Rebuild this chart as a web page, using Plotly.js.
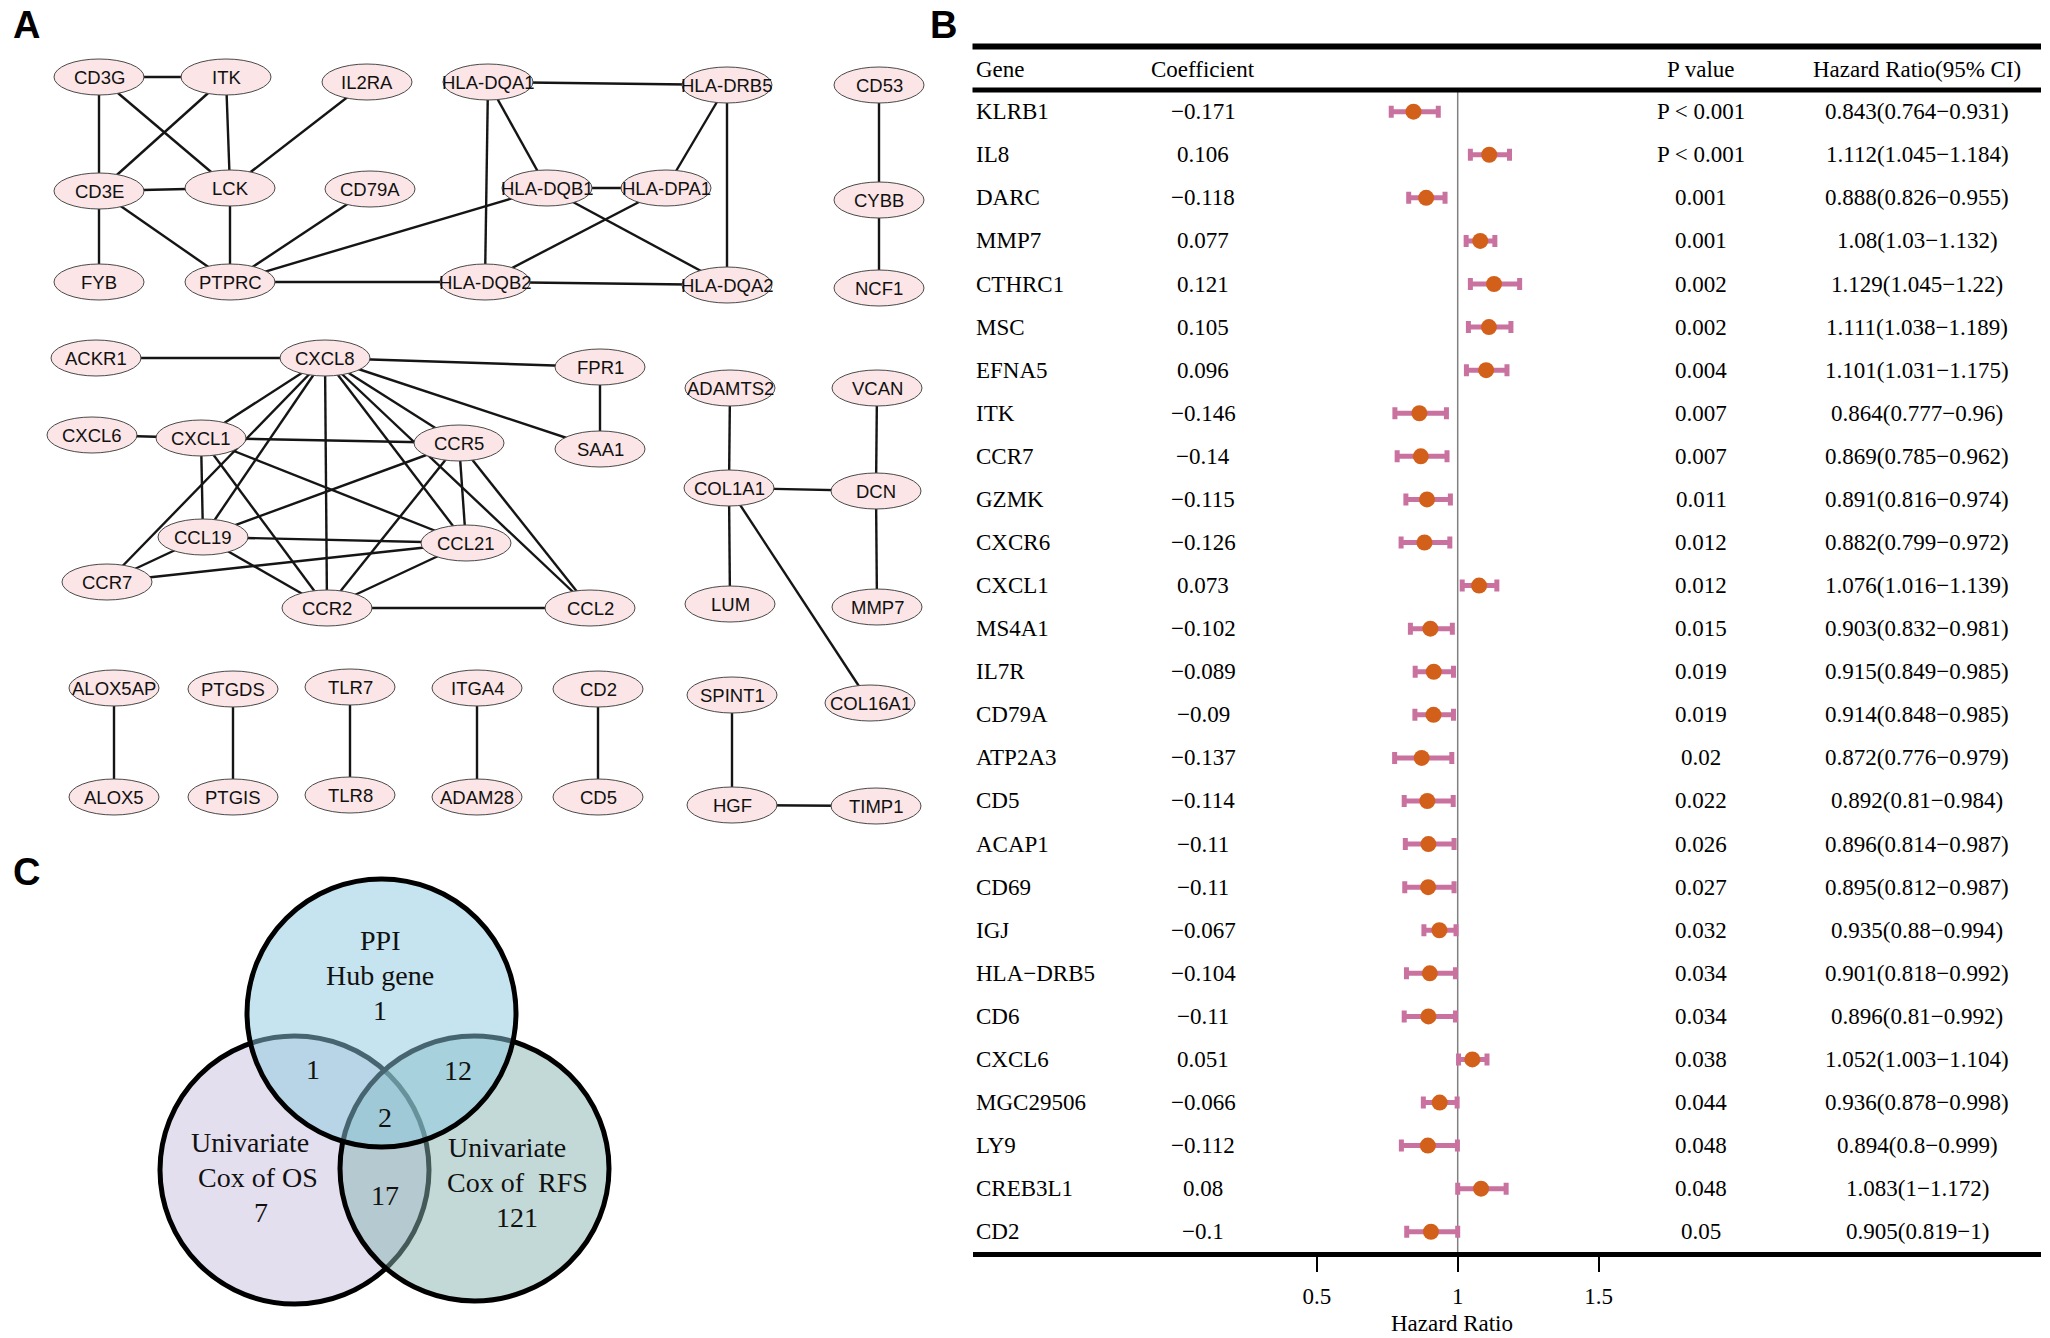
<!DOCTYPE html>
<html>
<head>
<meta charset="utf-8">
<script src="https://cdn.plot.ly/plotly-3.0.1.min.js"></script>
<style>
  html, body { margin: 0; padding: 0; background: #ffffff; }
  #chart { width: 2050px; height: 1338px; }
</style>
</head>
<body>
<div id="chart"></div>
<script>
// ---------------- DATA ----------------
// Panel B: univariate Cox regression table
const genes = ["KLRB1","IL8","DARC","MMP7","CTHRC1","MSC","EFNA5","ITK","CCR7","GZMK","CXCR6","CXCL1","MS4A1","IL7R","CD79A","ATP2A3","CD5","ACAP1","CD69","IGJ","HLA\u2212DRB5","CD6","CXCL6","MGC29506","LY9","CREB3L1","CD2"];
const coefficients = [-0.171,0.106,-0.118,0.077,0.121,0.105,0.096,-0.146,-0.14,-0.115,-0.126,0.073,-0.102,-0.089,-0.09,-0.137,-0.114,-0.11,-0.11,-0.067,-0.104,-0.11,0.051,-0.066,-0.112,0.08,-0.1];
const pValues = ["P < 0.001","P < 0.001","0.001","0.001","0.002","0.002","0.004","0.007","0.007","0.011","0.012","0.012","0.015","0.019","0.019","0.02","0.022","0.026","0.027","0.032","0.034","0.034","0.038","0.044","0.048","0.048","0.05"];
const hazardRatio = [0.843,1.112,0.888,1.08,1.129,1.111,1.101,0.864,0.869,0.891,0.882,1.076,0.903,0.915,0.914,0.872,0.892,0.896,0.895,0.935,0.901,0.896,1.052,0.936,0.894,1.083,0.905];
const ciLower = [0.764,1.045,0.826,1.03,1.045,1.038,1.031,0.777,0.785,0.816,0.799,1.016,0.832,0.849,0.848,0.776,0.81,0.814,0.812,0.88,0.818,0.81,1.003,0.878,0.8,1,0.819];
const ciUpper = [0.931,1.184,0.955,1.132,1.22,1.189,1.175,0.96,0.962,0.974,0.972,1.139,0.981,0.985,0.985,0.979,0.984,0.987,0.987,0.994,0.992,0.992,1.104,0.998,0.999,1.172,1];
const tableHeaders = ["Gene","Coefficient","P value","Hazard Ratio(95% CI)"];
const hrTickVals = [0.5, 1, 1.5];
const hrTickText = ["0.5", "1", "1.5"];

// Panel A: PPI network
const nodeNames = ["CD3G","ITK","IL2RA","HLA-DQA1","HLA-DRB5","CD53","CD3E","LCK","CD79A","HLA-DQB1","HLA-DPA1","CYBB","FYB","PTPRC","HLA-DQB2","HLA-DQA2","NCF1","ACKR1","CXCL8","FPR1","ADAMTS2","VCAN","CXCL6","CXCL1","CCR5","SAA1","COL1A1","DCN","CCL19","CCL21","CCR7","CCR2","CCL2","LUM","MMP7","ALOX5AP","PTGDS","TLR7","ITGA4","CD2","SPINT1","COL16A1","ALOX5","PTGIS","TLR8","ADAM28","CD5","HGF","TIMP1"];
const edges = [
  ["CD3G","ITK"],["CD3G","CD3E"],["CD3G","LCK"],["ITK","CD3E"],["ITK","LCK"],["IL2RA","LCK"],
  ["CD3E","LCK"],["CD3E","FYB"],["CD3E","PTPRC"],["LCK","PTPRC"],["CD79A","PTPRC"],
  ["PTPRC","HLA-DQB1"],["PTPRC","HLA-DQB2"],["HLA-DQA1","HLA-DRB5"],["HLA-DQA1","HLA-DQB1"],
  ["HLA-DQA1","HLA-DQB2"],["HLA-DRB5","HLA-DPA1"],["HLA-DRB5","HLA-DQA2"],["HLA-DQB1","HLA-DPA1"],
  ["HLA-DQB1","HLA-DQA2"],["HLA-DPA1","HLA-DQB2"],["HLA-DQB2","HLA-DQA2"],["CD53","CYBB"],["CYBB","NCF1"],
  ["ACKR1","CXCL8"],["CXCL8","FPR1"],["CXCL8","SAA1"],["FPR1","SAA1"],["CXCL6","CXCL1"],
  ["CXCL8","CXCL1"],["CXCL8","CCR7"],["CXCL8","CCL19"],["CXCL8","CCR2"],["CXCL8","CCR5"],
  ["CXCL8","CCL21"],["CXCL8","CCL2"],["CXCL1","CCR5"],["CXCL1","CCL19"],["CXCL1","CCR2"],
  ["CXCL1","CCL21"],["CCR5","CCL19"],["CCR5","CCR2"],["CCR5","CCL21"],["CCR5","CCL2"],
  ["CCL19","CCL21"],["CCL19","CCR7"],["CCL19","CCR2"],["CCR7","CCL21"],["CCL21","CCR2"],["CCR2","CCL2"],
  ["ADAMTS2","COL1A1"],["VCAN","DCN"],["COL1A1","DCN"],["COL1A1","LUM"],["COL1A1","COL16A1"],["DCN","MMP7"],
  ["ALOX5AP","ALOX5"],["PTGDS","PTGIS"],["TLR7","TLR8"],["ITGA4","ADAM28"],["CD2","CD5"],
  ["SPINT1","HGF"],["HGF","TIMP1"]
];

// Panel C: Venn diagram
const vennSetLines = [["PPI", "Hub gene"], ["Univariate", "Cox of OS"], ["Univariate", "Cox of  RFS"]];
const vennOnly = [1, 7, 121];            // PPI only, OS only, RFS only
const vennPPI_OS = 1;
const vennPPI_RFS = 12;
const vennOS_RFS = 17;
const vennAll = 2;

// ---------------- LAYOUT (positions, px) ----------------
const W = 2050, H = 1338;
const px = x => x / W;
const py = y => 1 - y / H;

const nodePos = {
  "CD3G":[99,77],"ITK":[226,77],"IL2RA":[367,82],"HLA-DQA1":[488,82],"HLA-DRB5":[727,85],"CD53":[879,85],
  "CD3E":[99,191],"LCK":[230,188],"CD79A":[370,189],"HLA-DQB1":[547,188],"HLA-DPA1":[666,188],"CYBB":[879,200],
  "FYB":[99,282],"PTPRC":[230,282],"HLA-DQB2":[485,282],"HLA-DQA2":[727,285],"NCF1":[879,288],
  "ACKR1":[96,358],"CXCL8":[325,358],"FPR1":[600,367],"ADAMTS2":[730,388],"VCAN":[877,388],
  "CXCL6":[92,435],"CXCL1":[201,438],"CCR5":[459,443],"SAA1":[600,449],"COL1A1":[729,488],"DCN":[876,491],
  "CCL19":[203,537],"CCL21":[466,543],"CCR7":[107,582],"CCR2":[327,608],"CCL2":[590,608],"LUM":[730,604],"MMP7":[877,607],
  "ALOX5AP":[114,688],"PTGDS":[233,689],"TLR7":[350,687],"ITGA4":[477,688],"CD2":[598,689],"SPINT1":[732,695],"COL16A1":[870,703],
  "ALOX5":[114,797],"PTGIS":[233,797],"TLR8":[350,795],"ADAM28":[477,797],"CD5":[598,797],"HGF":[732,805],"TIMP1":[876,806]
};
const nodeRx = 45, nodeRy = 18;

const serif = "Liberation Serif, Times New Roman, serif";
const sans = "Liberation Sans, Arial, sans-serif";

// forest geometry
const tblLeft = 972.5, tblRight = 2041;
const hrOneX = 1457.7, hrPxPerUnit = 281.6;
const rowTop = 90, rowBottom = 1252;
const row0Y = 111.7, rowStep = 43.08;
const xRange = [1 - (hrOneX - tblLeft) / hrPxPerUnit, 1 + (tblRight - hrOneX) / hrPxPerUnit];
const yRange = [(rowBottom - row0Y) / rowStep, (rowTop - row0Y) / rowStep];
const colX = { gene: 974, coef: 1203, p: 1701, hr: 1917 };
const rows = genes.map((g, i) => i);
const fmt = v => String(v).replace("-", "\u2212");

// ---------------- TRACES ----------------
const edgeX = [], edgeY = [];
edges.forEach(([a, b]) => {
  edgeX.push(nodePos[a][0], nodePos[b][0], null);
  edgeY.push(nodePos[a][1], nodePos[b][1], null);
});
const edgeTrace = {
  type: "scatter", mode: "lines", x: edgeX, y: edgeY, xaxis: "x2", yaxis: "y2",
  line: { color: "#151515", width: 2.4 }, hoverinfo: "skip", showlegend: false
};

const forestTrace = {
  type: "scatter", mode: "markers", x: hazardRatio, y: rows,
  marker: { color: "#D2601A", size: 16 },
  error_x: {
    type: "data", symmetric: false,
    array: hazardRatio.map((h, i) => ciUpper[i] - h),
    arrayminus: hazardRatio.map((h, i) => h - ciLower[i]),
    color: "#C9719F", thickness: 5, width: 6
  },
  hoverinfo: "skip", showlegend: false
};

// ---------------- SHAPES & ANNOTATIONS ----------------
const shapes = [];
const annotations = [];

// network nodes
nodeNames.forEach(n => {
  const [cx, cy] = nodePos[n];
  shapes.push({
    type: "circle", xref: "x2", yref: "y2", layer: "above",
    x0: cx - nodeRx, x1: cx + nodeRx, y0: cy - nodeRy, y1: cy + nodeRy,
    fillcolor: "#FBE5E6", line: { color: "#4a4a4a", width: 1 }
  });
  annotations.push({
    xref: "x2", yref: "y2", x: cx, y: cy, text: n, showarrow: false,
    xanchor: "center", yanchor: "middle", font: { family: sans, size: 18.5, color: "#111" }
  });
});

// Venn circles: left (OS), right (RFS), top (PPI)
const vennCircles = [
  { x0: 160, x1: 429, y0: 1036, y1: 1304, fill: "rgba(201,191,221,0.5)" },
  { x0: 340, x1: 609, y0: 1036, y1: 1301, fill: "rgba(133,179,177,0.5)" },
  { x0: 247, x1: 516, y0: 879, y1: 1147, fill: "rgba(139,201,223,0.5)" }
];
vennCircles.forEach(c => shapes.push({
  type: "circle", xref: "x2", yref: "y2", layer: "above",
  x0: c.x0, x1: c.x1, y0: c.y0, y1: c.y1, fillcolor: c.fill,
  line: { color: "#000", width: 5 }
}));
const vennFont = { family: serif, size: 28, color: "#111" };
const vennText = [
  [380, 940, vennSetLines[0][0]], [380, 975, vennSetLines[0][1]], [380, 1010, String(vennOnly[0])],
  [250, 1142, vennSetLines[1][0]], [258, 1177, vennSetLines[1][1]], [261, 1212, String(vennOnly[1])],
  [507, 1147, vennSetLines[2][0]], [517, 1182, vennSetLines[2][1]], [517, 1217, String(vennOnly[2])],
  [313, 1069, String(vennPPI_OS)],
  [458, 1070, String(vennPPI_RFS)],
  [385, 1117, String(vennAll)],
  [385, 1195, String(vennOS_RFS)]
];
vennText.forEach(([x, y, t]) => annotations.push({
  xref: "x2", yref: "y2", x, y, text: t, showarrow: false, align: "center",
  xanchor: "center", yanchor: "middle", font: vennFont
}));

// panel letters
[["A", 26, 25], ["B", 943, 25], ["C", 26, 872]].forEach(([t, x, y]) => annotations.push({
  xref: "x2", yref: "y2", x, y, text: "<b>" + t + "</b>", showarrow: false,
  xanchor: "center", yanchor: "middle", font: { family: sans, size: 38, color: "#000" }
}));

// table rules
shapes.push({ type: "line", xref: "paper", yref: "paper", x0: px(tblLeft), x1: px(tblRight), y0: py(46.5), y1: py(46.5), line: { color: "#000", width: 6 } });
shapes.push({ type: "line", xref: "paper", yref: "paper", x0: px(tblLeft), x1: px(tblRight), y0: py(90), y1: py(90), line: { color: "#000", width: 5 } });
// reference line HR = 1
shapes.push({ type: "line", xref: "x", yref: "paper", x0: 1, x1: 1, y0: py(rowBottom), y1: py(rowTop), layer: "below", line: { color: "#808080", width: 1.5 } });

// header
const tFont = { family: serif, size: 23, color: "#000" };
const headerX = [colX.gene, colX.coef, colX.p, colX.hr];
tableHeaders.forEach((h, i) => annotations.push({
  xref: "paper", yref: "paper", x: px(headerX[i]), y: py(70), text: h, showarrow: false,
  xanchor: i === 0 ? "left" : "center", yanchor: "middle", font: tFont
}));
// rows
genes.forEach((g, i) => {
  annotations.push({ xref: "paper", yref: "y", x: px(colX.gene), y: i, text: g, showarrow: false, xanchor: "left", yanchor: "middle", font: tFont });
  annotations.push({ xref: "paper", yref: "y", x: px(colX.coef), y: i, text: fmt(coefficients[i]), showarrow: false, xanchor: "center", yanchor: "middle", font: tFont });
  annotations.push({ xref: "paper", yref: "y", x: px(colX.p), y: i, text: pValues[i], showarrow: false, xanchor: "center", yanchor: "middle", font: tFont });
  annotations.push({ xref: "paper", yref: "y", x: px(colX.hr), y: i,
    text: hazardRatio[i] + "(" + ciLower[i] + "\u2212" + ciUpper[i] + ")",
    showarrow: false, xanchor: "center", yanchor: "middle", font: tFont });
});
// axis title
annotations.push({ xref: "paper", yref: "paper", x: px(1452), y: py(1323), text: "Hazard Ratio", showarrow: false, xanchor: "center", yanchor: "middle", font: tFont });

const layout = {
  width: W, height: H,
  margin: { l: 0, r: 0, t: 0, b: 0 },
  paper_bgcolor: "#ffffff", plot_bgcolor: "rgba(0,0,0,0)",
  showlegend: false,
  xaxis: {
    domain: [px(tblLeft), px(tblRight)], range: xRange,
    tickvals: hrTickVals, ticktext: hrTickText,
    ticks: "outside", ticklen: 15, tickwidth: 2, tickcolor: "#000",
    showline: true, linewidth: 5, linecolor: "#000",
    showgrid: false, zeroline: false, fixedrange: true,
    tickfont: tFont, ticklabelstandoff: 4
  },
  yaxis: {
    domain: [py(rowBottom), py(rowTop)], range: yRange,
    visible: false, showgrid: false, zeroline: false, fixedrange: true
  },
  xaxis2: { domain: [0, 1], range: [0, W], visible: false, fixedrange: true, anchor: "y2" },
  yaxis2: { domain: [0, 1], range: [H, 0], visible: false, fixedrange: true, anchor: "x2" },
  shapes, annotations
};

Plotly.newPlot("chart", [forestTrace, edgeTrace], layout, { displayModeBar: false, staticPlot: true });
</script>
</body>
</html>
